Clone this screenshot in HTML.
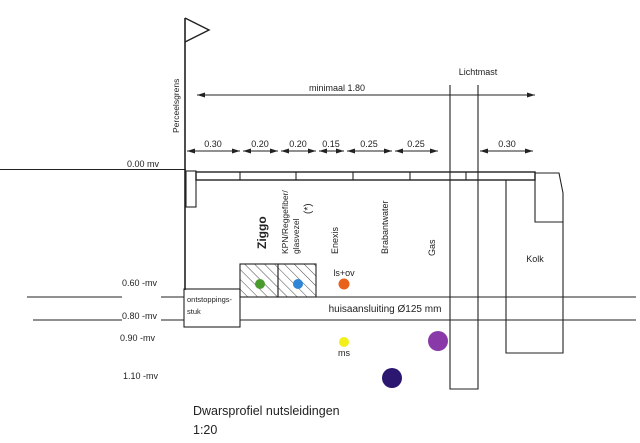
<!DOCTYPE html>
<html><head><meta charset="utf-8"><style>
html,body{margin:0;padding:0;background:#fff;}
svg{display:block;}
text{font-family:"Liberation Sans",sans-serif;fill:#222;}
</style></head><body>
<svg width="640" height="443" viewBox="0 0 640 443" xmlns="http://www.w3.org/2000/svg">
<defs>
<pattern id="h" patternUnits="userSpaceOnUse" width="7" height="7" patternTransform="rotate(-45)">
<line x1="0" y1="0" x2="0" y2="7" stroke="#333" stroke-width="0.9"/>
</pattern>
<marker id="a" markerWidth="8" markerHeight="6" refX="8" refY="3" orient="auto" markerUnits="userSpaceOnUse">
<path d="M0,0.5 L8,3 L0,5.5 z" fill="#222"/>
</marker>
<marker id="b" markerWidth="8" markerHeight="6" refX="0" refY="3" orient="auto" markerUnits="userSpaceOnUse">
<path d="M8,0.5 L0,3 L8,5.5 z" fill="#222"/>
</marker>
</defs>
<g stroke="#222" fill="none" stroke-width="1.1">
<line x1="185" y1="18" x2="185" y2="290" stroke-width="1.6"/>
<path d="M185,18 L209,30 L185,42" stroke-width="1.4"/>
<line x1="197" y1="95" x2="535" y2="95" marker-start="url(#b)" marker-end="url(#a)"/>
<line x1="187" y1="151" x2="240" y2="151" marker-start="url(#b)" marker-end="url(#a)"/>
<line x1="243" y1="151" x2="278" y2="151" marker-start="url(#b)" marker-end="url(#a)"/>
<line x1="281" y1="151" x2="316" y2="151" marker-start="url(#b)" marker-end="url(#a)"/>
<line x1="319" y1="151" x2="344" y2="151" marker-start="url(#b)" marker-end="url(#a)"/>
<line x1="347" y1="151" x2="392" y2="151" marker-start="url(#b)" marker-end="url(#a)"/>
<line x1="395" y1="151" x2="438" y2="151" marker-start="url(#b)" marker-end="url(#a)"/>
<line x1="480" y1="151" x2="533" y2="151" marker-start="url(#b)" marker-end="url(#a)"/>
<line x1="0" y1="169.5" x2="186" y2="169.5"/>
<rect x="186" y="171" width="10" height="36"/>
<rect x="196" y="172" width="339" height="8" stroke-width="1.4"/>
<line x1="240" y1="172" x2="240" y2="180"/>
<line x1="296" y1="172" x2="296" y2="180"/>
<line x1="353" y1="172" x2="353" y2="180"/>
<line x1="410" y1="172" x2="410" y2="180"/>
<line x1="466" y1="172" x2="466" y2="180"/>
<path d="M450,85 L450,389 L478,389 L478,85"/>
<path d="M535,173 L559,173 L563,193 L563,222 L535,222 Z"/>
<path d="M506,180 L506,353 L563,353 L563,222"/>
<line x1="27" y1="297" x2="122" y2="297"/>
<line x1="161" y1="297" x2="184" y2="297"/>
<line x1="240" y1="297" x2="636" y2="297"/>
<line x1="33" y1="320" x2="122" y2="320"/>
<line x1="161" y1="320" x2="184" y2="320"/>
<line x1="240" y1="320" x2="636" y2="320"/>
<rect x="184" y="289" width="56" height="38"/>
<rect x="240" y="264" width="38" height="33" fill="url(#h)"/>
<rect x="278" y="264" width="38" height="33" fill="url(#h)"/>
</g>
<circle cx="260" cy="284" r="5" fill="#4a9a2e"/>
<circle cx="298" cy="284" r="5" fill="#2f86d6"/>
<circle cx="344" cy="284" r="5.5" fill="#e8621c"/>
<circle cx="344" cy="342" r="5" fill="#f2ef1a"/>
<circle cx="438" cy="341" r="10" fill="#8a3aa8"/>
<circle cx="392" cy="378" r="10" fill="#2b1770"/>
<g font-size="9">
<text x="337" y="91" text-anchor="middle">minimaal 1.80</text>
<text x="478" y="75" text-anchor="middle">Lichtmast</text>
<text x="213" y="147" text-anchor="middle">0.30</text>
<text x="260" y="147" text-anchor="middle">0.20</text>
<text x="298" y="147" text-anchor="middle">0.20</text>
<text x="331" y="147" text-anchor="middle">0.15</text>
<text x="369" y="147" text-anchor="middle">0.25</text>
<text x="416" y="147" text-anchor="middle">0.25</text>
<text x="507" y="147" text-anchor="middle">0.30</text>
<text x="127" y="167">0.00 mv</text>
<text x="122" y="286">0.60 -mv</text>
<text x="122" y="319">0.80 -mv</text>
<text x="120" y="341">0.90 -mv</text>
<text x="123" y="379">1.10 -mv</text>
<text x="535" y="262" text-anchor="middle">Kolk</text>
<text x="344" y="276" text-anchor="middle">ls+ov</text>
<text x="344" y="356" text-anchor="middle">ms</text>
<text x="385" y="312" text-anchor="middle" font-size="10">huisaansluiting Ø125 mm</text>
<text x="187" y="302" font-size="7.5">ontstoppings-</text>
<text x="187" y="314" font-size="7.5">stuk</text>
<text transform="translate(179,133) rotate(-90)" font-size="8.5">Perceelsgrens</text>
<text transform="translate(266,249) rotate(-90)" font-size="12" font-weight="bold">Ziggo</text>
<text transform="translate(288,254) rotate(-90)" font-size="8.5">KPN/Reggefiber/</text>
<text transform="translate(299,254) rotate(-90)" font-size="8.5">glasvezel</text>
<text transform="translate(311,214) rotate(-90)" font-size="10">(*)</text>
<text transform="translate(338,254) rotate(-90)" font-size="9">Enexis</text>
<text transform="translate(388,254) rotate(-90)" font-size="9">Brabantwater</text>
<text transform="translate(435,256) rotate(-90)" font-size="9">Gas</text>
</g>
<text x="193" y="415" font-size="12.5">Dwarsprofiel nutsleidingen</text>
<text x="193" y="434" font-size="12.5">1:20</text>
</svg>
</body></html>
